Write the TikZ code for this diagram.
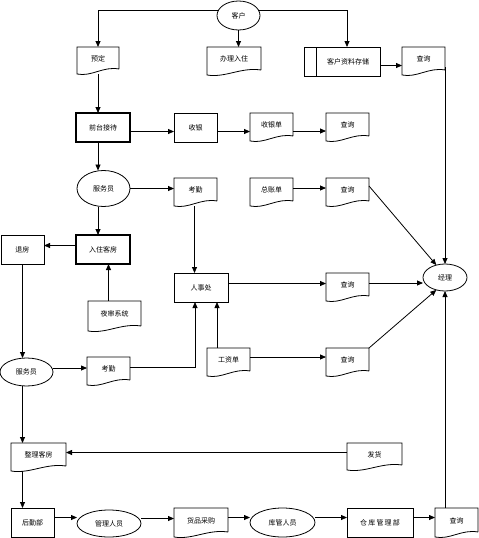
\documentclass[tikz,border=0pt]{standalone}
\usepackage{fontspec}
\newfontfamily\cjk{Noto Sans CJK SC}
\usetikzlibrary{arrows.meta,calc,shapes.geometric}
\begin{document}
\begin{tikzpicture}[x=1pt,y=-1pt,
  every node/.style={font=\cjk\fontsize{7}{8}\selectfont, inner sep=0pt, outer sep=0pt},
  arr/.style={line width=0.8pt, -{Triangle[length=6pt,width=5pt]}},
  ln/.style={line width=0.8pt},
  box/.style={draw, line width=0.8pt, rectangle},
  thickbox/.style={draw, line width=1.5pt, rectangle},
  oval/.style={draw, line width=0.8pt, ellipse},
  docnode/.style={rectangle}]
\useasboundingbox (0,0) rectangle (479,538);
\newcommand\docshape[1]{\draw[ln] ([yshift=5pt]#1.south east) -- (#1.north east) -- (#1.north west) -- (#1.south west)
  .. controls ([yshift=-3pt]$(#1.south west)!0.35!(#1.south east)$) and ([yshift=8pt]$(#1.south west)!0.62!(#1.south east)$) .. ([yshift=5pt]#1.south east);}
\newcommand\docn[5]{\node[docnode, minimum width=#3pt, minimum height=#4pt] (#1) at #2 {};
  \node at ([yshift=2pt]#1.center) {#5};
  \docshape{#1}}
% nodes
\node[oval, minimum width=43pt, minimum height=29pt] (kehu) at (238.5,15.5) {客户};
\docn{yuding}{(98,60.5)}{42}{27}{预定}
\docn{banli}{(234,61)}{54}{28}{办理入住}
\node[box, minimum width=76pt, minimum height=29pt] (ziliao) at (342,61.5) {\hspace{12pt}客户资料存储};
\draw[ln] (316,47) -- (316,76);
\docn{cx1}{(423.5,61)}{43}{28}{查询}
\node[thickbox, minimum width=54pt, minimum height=29pt] (qiantai) at (103,127.5) {前台接待};
\node[box, minimum width=43pt, minimum height=29pt] (shouyin) at (195.5,127.5) {收银};
\docn{shouyindan}{(271.5,127)}{43}{28}{收银单}
\docn{cx2}{(347.5,127)}{43}{28}{查询}
\node[oval, minimum width=53pt, minimum height=36pt] (fuwu1) at (103.5,188.5) {服务员};
\docn{kaoqin1}{(195.5,192)}{43}{28}{考勤}
\docn{zongzhang}{(271.5,192)}{43}{28}{总账单}
\docn{cx3}{(347.5,192)}{43}{28}{查询}
\node[thickbox, minimum width=54pt, minimum height=29pt] (ruzhu) at (103,249.5) {入住客房};
\node[box, minimum width=43pt, minimum height=29pt] (tuifang) at (22.5,249.5) {退房};
\node[box, minimum width=54pt, minimum height=29pt] (renshi) at (201,287.5) {人事处};
\docn{cx4}{(347.5,287)}{43}{28}{查询}
\node[oval, minimum width=44pt, minimum height=27pt] (jingli) at (445,277.5) {经理};
\docn{yeshen}{(114.5,316)}{53}{30}{夜审系统}
\node[oval, minimum width=53pt, minimum height=28pt] (fuwu2) at (26.5,372) {服务员};
\docn{kaoqin2}{(108.5,371)}{43}{28}{考勤}
\docn{gongzi}{(228.5,362)}{43}{28}{工资单}
\docn{cx5}{(347.5,362)}{43}{28}{查询}
\docn{fahuo}{(374.5,456.5)}{55}{27}{发货}
\docn{zhengli}{(38.5,457)}{55}{28}{整理客房}
\node[box, minimum width=43pt, minimum height=29pt] (houqin) at (32.5,522.5) {后勤部};
\node[oval, minimum width=64pt, minimum height=27pt] (guanli) at (109,523.5) {管理人员};
\docn{huopin}{(201,522.5)}{54}{29}{货品采购}
\node[oval, minimum width=65pt, minimum height=29pt] (kuguan) at (282.5,522.5) {库管人员};
\node[box, minimum width=66pt, minimum height=29pt] (cangku) at (380,522.5) {仓\,库\,管\,理\,部};
\docn{cx6}{(456.5,522.5)}{43}{29}{查询}
% connectors
\draw[arr] (kehu.165) -| (yuding.north);
\draw[arr] (kehu.south) -- (kehu.south |- banli.north);
\draw[arr] (kehu.15) -| ([xshift=5pt]ziliao.north);
\draw[arr] ([yshift=-4pt]ziliao.east) -- ([yshift=-4pt]ziliao.east -| cx1.west);
\draw[arr] ([yshift=-6pt]cx1.east) -- (cx1.east |- jingli.north);
\draw[arr] (yuding.south) -- (yuding.south |- qiantai.north);
\draw[arr] ([yshift=-4pt]qiantai.east) -- ([yshift=-4pt]qiantai.east -| shouyin.west);
\draw[arr] ([yshift=-4pt]shouyin.east) -- ([yshift=-4pt]shouyin.east -| shouyindan.west);
\draw[arr] ([yshift=-4pt]shouyindan.east) -- ([yshift=-4pt]shouyindan.east -| cx2.west);
\draw[arr] (yuding.south |- qiantai.south) -- (yuding.south |- fuwu1.north);
\draw[arr] (fuwu1.east) -- (fuwu1.east -| kaoqin1.west);
\draw[arr] (yuding.south |- fuwu1.south) -- (yuding.south |- ruzhu.north);
\draw[arr] ([xshift=-1pt]kaoqin1.south) -- ([xshift=-1pt]kaoqin1.south |- renshi.north);
\draw[arr] ([yshift=4pt]ruzhu.west) -- ([yshift=4pt]ruzhu.west -| tuifang.east);
\draw[arr] ([xshift=-6pt]yeshen.north) -- ([xshift=-6pt]yeshen.north |- ruzhu.south);
\draw[arr] (tuifang.south) -- (tuifang.south |- fuwu2.north);
\draw[arr] ([yshift=4pt]fuwu2.east) -- ([yshift=4pt]fuwu2.east -| kaoqin2.west);
\draw[arr] ([yshift=4pt]kaoqin2.east) -| ([xshift=-6pt]renshi.south);
\draw[arr] ([xshift=-11.5pt]gongzi.north) -- ([xshift=-11.5pt]gongzi.north |- renshi.south);
\draw[arr] ([yshift=5pt]gongzi.east) -- ([yshift=5pt]gongzi.east -| cx5.west);
\draw[arr] ([yshift=4pt]renshi.east) -- ([yshift=4pt]renshi.east -| cx4.west);
\draw[arr] ([yshift=4pt]cx4.east) -- ([yshift=4pt]cx4.east -| jingli.west);
\draw[arr] ([yshift=4pt]zongzhang.east) -- ([yshift=4pt]zongzhang.east -| cx3.west);
\draw[arr] ([yshift=6pt]cx3.east) -- (jingli.125);
\draw[arr] (cx5.north east) -- (jingli.235);
\draw[arr] ([yshift=4pt]fahuo.west) -- ([yshift=4pt]fahuo.west -| zhengli.east);
\draw[arr] (tuifang.south |- fuwu2.south) -- (tuifang.south |- zhengli.north);
\draw[arr] (tuifang.south |- zhengli.south) -- (tuifang.south |- houqin.north);
\draw[arr] ([yshift=5pt]houqin.east) -- ([yshift=5pt]houqin.east -| guanli.west);
\draw[arr] ([yshift=5pt]guanli.east) -- ([yshift=5pt]guanli.east -| huopin.west);
\draw[arr] ([yshift=5pt]huopin.east) -- ([yshift=5pt]huopin.east -| kuguan.west);
\draw[arr] ([yshift=5pt]kuguan.east) -- ([yshift=5pt]kuguan.east -| cangku.west);
\draw[arr] ([yshift=5pt]cangku.east) -- ([yshift=5pt]cangku.east -| cx6.west);
\draw[arr] ([xshift=-11.5pt]cx6.north) -- ([xshift=-11.5pt]cx6.north |- jingli.south);
\end{tikzpicture}
\end{document}
